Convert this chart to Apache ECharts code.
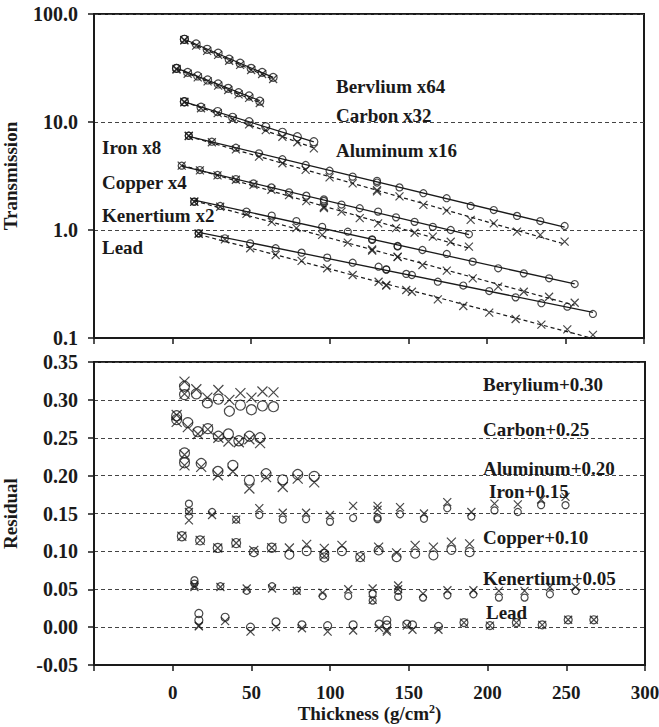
<!DOCTYPE html>
<html>
<head>
<meta charset="utf-8">
<script src="https://cdn.jsdelivr.net/npm/echarts@6/dist/echarts.min.js"></script>
<style>
  html, body { margin: 0; padding: 0; background: #fff; }
  #chart { width: 659px; height: 727px; }
</style>
</head>
<body>
<div id="chart"></div>
<script>
// Transmission (plotted after the scale factor in each label) and residuals
// for seven absorbers; circles and crosses are the two data sets per absorber.

const beThick = [7.5, 7.5, 15, 22, 29, 36, 43, 50, 57, 64];
const beCirc = [58.3, 58.3, 52.8, 47.1, 43.3, 38.1, 35.0, 31.4, 28.8, 25.9];
const beCross = [57.5, 57.0, 51.0, 45.5, 41.8, 36.9, 33.8, 30.3, 27.8, 25.0];
const beResCirc = [0.318, 0.307, 0.308, 0.296, 0.301, 0.285, 0.293, 0.287, 0.292, 0.291];
const beResCross = [0.324, 0.308, 0.314, 0.303, 0.313, 0.300, 0.309, 0.303, 0.311, 0.310];

const cThick = [2.5, 2.5, 9.6, 16, 22.3, 29, 35.4, 42, 48.7, 55.5];
const cCirc = [31.4, 31.4, 28.8, 26.7, 24.5, 22.5, 20.5, 18.7, 17.4, 15.6];
const cCross = [31.0, 30.6, 28.0, 25.9, 23.8, 21.7, 19.8, 18.0, 16.7, 15.0];
const cResCirc = [0.279, 0.274, 0.270, 0.258, 0.262, 0.252, 0.255, 0.246, 0.252, 0.250];
const cResCross = [0.280, 0.271, 0.264, 0.255, 0.261, 0.250, 0.245, 0.244, 0.248, 0.243];

const alThick = [7.5, 7.5, 18.1, 28.7, 38.2, 48.7, 59.3, 69.9, 79.4, 89.9];
const alCirc = [15.4, 15.4, 13.7, 12.5, 11.06, 10.07, 9.04, 8.03, 7.31, 6.57];
const alCross = [15.4, 15.2, 13.4, 12.1, 10.6, 9.5, 8.4, 7.3, 6.5, 5.7];
const alResCirc = [0.230, 0.217, 0.216, 0.2055, 0.2135, 0.194, 0.2025, 0.1945, 0.2015, 0.199];
const alResCross = [0.2275, 0.2135, 0.2115, 0.2005, 0.2055, 0.183, 0.198, 0.185, 0.196, 0.191];

const feThick = [10.3, 10.3, 25, 40.3, 55, 69.9, 84.7, 99.9, 114.6, 130.1, 130.1, 144.4, 159.6, 174.4, 189.7, 204.4, 219.2, 234, 249.5];
const feCirc = [7.46, 7.46, 6.57, 5.78, 5.13, 4.52, 4.0, 3.54, 3.12, 2.85, 2.75, 2.48, 2.19, 1.97, 1.67, 1.53, 1.35, 1.21, 1.09];
const feCross = [7.46, 7.40, 6.50, 5.57, 4.78, 4.15, 3.60, 3.07, 2.70, 2.34, 2.28, 2.05, 1.71, 1.51, 1.24, 1.15, 0.965, 0.90, 0.78];
const feResCirc = [0.163, 0.153, 0.152, 0.142, 0.148, 0.142, 0.1425, 0.139, 0.144, 0.1445, 0.1425, 0.149, 0.143, 0.157, 0.146, 0.154, 0.152, 0.161, 0.161];
const feResCross = [0.152, 0.141, 0.148, 0.142, 0.157, 0.151, 0.151, 0.148, 0.160, 0.160, 0.155, 0.1585, 0.150, 0.165, 0.152, 0.163, 0.162, 0.1685, 0.172];

const cuThick = [5.8, 17.4, 28.6, 40.3, 51.5, 62.9, 74.1, 85.1, 96.3, 96.3, 107.5, 119.1, 130.8, 142.2, 154, 165.6, 177, 188.6];
const cuCirc = [3.94, 3.59, 3.23, 2.96, 2.70, 2.48, 2.23, 2.08, 1.92, 1.86, 1.72, 1.59, 1.48, 1.31, 1.19, 1.07, 1.00, 0.912];
const cuCross = [3.94, 3.57, 3.20, 2.92, 2.62, 2.36, 2.10, 1.85, 1.64, 1.60, 1.48, 1.29, 1.15, 1.04, 0.944, 0.867, 0.779, 0.701];
const cuResCirc = [0.120, 0.1145, 0.1045, 0.111, 0.099, 0.1048, 0.0956, 0.1004, 0.097, 0.092, 0.1004, 0.0925, 0.1013, 0.0925, 0.097, 0.0947, 0.102, 0.099];
const cuResCross = [0.120, 0.1145, 0.1045, 0.111, 0.1013, 0.1048, 0.1044, 0.1092, 0.104, 0.094, 0.108, 0.0925, 0.1057, 0.098, 0.108, 0.1057, 0.1123, 0.110];

const keThick = [13.8, 13.8, 30.3, 47, 63.1, 78.8, 95.2, 111.5, 127, 127, 143.2, 143.2, 159, 174.5, 191, 207.2, 223.5, 239.6, 255.9];
const keCirc = [1.83, 1.83, 1.67, 1.48, 1.36, 1.21, 1.07, 0.964, 0.82, 0.81, 0.711, 0.705, 0.653, 0.60, 0.509, 0.442, 0.397, 0.357, 0.316];
const keCross = [1.83, 1.83, 1.64, 1.41, 1.19, 1.04, 0.90, 0.764, 0.66, 0.645, 0.566, 0.56, 0.474, 0.42, 0.357, 0.299, 0.268, 0.241, 0.212];
const keResCirc = [0.062, 0.0575, 0.054, 0.048, 0.054, 0.048, 0.041, 0.041, 0.044, 0.035, 0.048, 0.040, 0.039, 0.042, 0.0434, 0.039, 0.039, 0.0434, 0.0478];
const keResCross = [0.055, 0.053, 0.053, 0.051, 0.051, 0.048, 0.0456, 0.050, 0.051, 0.036, 0.055, 0.050, 0.0443, 0.0487, 0.0487, 0.0478, 0.0478, 0.053, 0.053];

const pbThick = [16.6, 16.6, 33.3, 49.4, 65.6, 82.1, 98.4, 114.6, 131.1, 136, 136, 148.7, 152.3, 168.8, 185, 201.5, 218.3, 234.7, 251.2, 267.5];
const pbCirc = [0.931, 0.931, 0.838, 0.753, 0.678, 0.617, 0.555, 0.498, 0.457, 0.432, 0.43, 0.392, 0.383, 0.332, 0.306, 0.272, 0.238, 0.210, 0.195, 0.167];
const pbCross = [0.931, 0.92, 0.82, 0.678, 0.587, 0.517, 0.442, 0.383, 0.332, 0.31, 0.305, 0.278, 0.268, 0.228, 0.198, 0.172, 0.150, 0.133, 0.12, 0.107];
const pbResCirc = [0.018, 0.009, 0.013, 0.0, 0.007, 0.003, 0.002, 0.003, 0.004, 0.009, 0.003, 0.004, 0.003, 0.001, 0.006, 0.002, 0.006, 0.003, 0.0097, 0.0097];
const pbResCross = [0.002, 0.001, 0.008, -0.006, 0.0, -0.0015, -0.006, -0.0045, -0.001, -0.006, -0.004, 0.002, -0.0035, -0.0035, 0.006, 0.002, 0.006, 0.003, 0.0097, 0.0097];

const transLabels = ['Bervlium x64', 'Carbon x32', 'Aluminum x16', 'Iron x8', 'Copper x4', 'Kenertium x2', 'Lead'];
const residLabels = ['Berylium+0.30', 'Carbon+0.25', 'Aluminum+0.20', 'Iron+0.15', 'Copper+0.10', 'Kenertium+0.05', 'Lead'];

const absorbers = [
  { thick: beThick, circ: beCirc, cross: beCross, resCirc: beResCirc, resCross: beResCross },
  { thick: cThick, circ: cCirc, cross: cCross, resCirc: cResCirc, resCross: cResCross },
  { thick: alThick, circ: alCirc, cross: alCross, resCirc: alResCirc, resCross: alResCross },
  { thick: feThick, circ: feCirc, cross: feCross, resCirc: feResCirc, resCross: feResCross },
  { thick: cuThick, circ: cuCirc, cross: cuCross, resCirc: cuResCirc, resCross: cuResCross },
  { thick: keThick, circ: keCirc, cross: keCross, resCirc: keResCirc, resCross: keResCross },
  { thick: pbThick, circ: pbCirc, cross: pbCross, resCirc: pbResCirc, resCross: pbResCross }
];

// marker sizes per absorber in the residual panel
const residCircleSize = [10, 10, 10, 7, 9, 7, 8];
const residCrossSize = [10, 10, 10, 8, 9, 8, 8];

const INK = '#1a1a1a';
const FONT = '"Liberation Serif", "Times New Roman", serif';
const CROSS = 'path://M0,0L10,10M10,0L0,10';

const zip = (xs, ys) => xs.map((x, i) => [x, ys[i]]);

// exponential (straight in log space) least-squares fit, drawn over the data range
function expFit(xs, ys) {
  const n = xs.length;
  let sx = 0, sy = 0, sxx = 0, sxy = 0;
  for (let i = 0; i < n; i++) {
    const ly = Math.log10(ys[i]);
    sx += xs[i]; sy += ly; sxx += xs[i] * xs[i]; sxy += xs[i] * ly;
  }
  const b = (n * sxy - sx * sy) / (n * sxx - sx * sx);
  const a = (sy - b * sx) / n;
  const x0 = Math.min(...xs), x1 = Math.max(...xs);
  return [[x0, Math.pow(10, a + b * x0)], [x1, Math.pow(10, a + b * x1)]];
}

const hollow = { color: 'rgba(255,255,255,0)', borderColor: INK, borderWidth: 1.2 };

const series = [];
absorbers.forEach((m, i) => {
  series.push({
    type: 'line', xAxisIndex: 0, yAxisIndex: 0, data: expFit(m.thick, m.circ),
    symbol: 'none', lineStyle: { color: INK, width: 1.3 }, z: 2, silent: true
  });
  series.push({
    type: 'line', xAxisIndex: 0, yAxisIndex: 0, data: expFit(m.thick, m.cross),
    symbol: 'none', lineStyle: { color: INK, width: 1.2, type: [4, 3] }, z: 2, silent: true
  });
  series.push({
    type: 'scatter', xAxisIndex: 0, yAxisIndex: 0, data: zip(m.thick, m.circ),
    symbol: 'circle', symbolSize: i < 3 ? 8 : 7, itemStyle: hollow, z: 3
  });
  series.push({
    type: 'scatter', xAxisIndex: 0, yAxisIndex: 0, data: zip(m.thick, m.cross),
    symbol: CROSS, symbolSize: 8, itemStyle: hollow, z: 3
  });
  series.push({
    type: 'scatter', xAxisIndex: 1, yAxisIndex: 1, data: zip(m.thick, m.resCirc),
    symbol: 'circle', symbolSize: residCircleSize[i], itemStyle: hollow, z: 3
  });
  series.push({
    type: 'scatter', xAxisIndex: 1, yAxisIndex: 1, data: zip(m.thick, m.resCross),
    symbol: CROSS, symbolSize: residCrossSize[i], itemStyle: hollow, z: 3
  });
});

const labelStyle = { fontFamily: FONT, fontWeight: 'bold', fontSize: 19, color: INK };
const yTickStyle = { fontFamily: FONT, fontWeight: 'bold', fontSize: 20, color: INK };
const dashed = { show: true, lineStyle: { color: '#444', width: 1, type: [4, 3] } };

const transPos = [[336, 86], [336, 115], [336, 150], [102, 147], [102, 182], [102, 215], [102, 247]];
const residPos = [[483, 384], [483, 429], [483, 468], [489, 491], [483, 537], [483, 578], [486, 612]];
const noteText = (txt, p) => ({
  type: 'text', x: p[0], y: p[1], silent: true,
  style: { text: txt, font: 'bold 19px ' + FONT, fill: INK, verticalAlign: 'middle', align: 'left' }
});

const axisLine = () => ({ show: true, onZero: false, lineStyle: { color: INK, width: 2 } });
const axisTick = () => ({ show: true, length: 6, lineStyle: { color: INK, width: 1.5 } });

const xCommon = () => ({
  type: 'value', min: -50, max: 300, interval: 50,
  axisLine: axisLine(), axisTick: axisTick(), splitLine: { show: false }
});

const gridBox = { show: true, borderColor: INK, borderWidth: 2, containLabel: false, outerBoundsMode: 'none' };

const option = {
  backgroundColor: '#fff',
  animation: false,
  grid: [
    Object.assign({ left: 94, top: 14, width: 550, height: 324 }, gridBox),
    Object.assign({ left: 94, top: 362, width: 551, height: 303 }, gridBox)
  ],
  xAxis: [
    Object.assign(xCommon(), { gridIndex: 0, axisLabel: { show: false } }),
    Object.assign(xCommon(), {
      gridIndex: 1,
      axisLabel: Object.assign({}, labelStyle, { margin: 18, formatter: v => (v < 0 ? '' : String(v)) }),
      name: 'Thickness (g/cm{sup|2})', nameLocation: 'middle', nameGap: 38,
      nameTextStyle: Object.assign({}, labelStyle, {
        rich: { sup: { fontFamily: FONT, fontWeight: 'bold', fontSize: 12, color: INK, verticalAlign: 'top', padding: [0, 0, 8, 0] } }
      })
    })
  ],
  yAxis: [
    {
      gridIndex: 0, type: 'log', logBase: 10, min: 0.1, max: 100,
      axisLine: axisLine(), axisTick: axisTick(),
      axisLabel: Object.assign({}, yTickStyle, { margin: 16, formatter: v => Number(v).toFixed(1) }),
      splitLine: dashed,
      name: 'Transmission', nameLocation: 'middle', nameGap: 74, nameRotate: 90,
      nameTextStyle: labelStyle
    },
    {
      gridIndex: 1, type: 'value', min: -0.05, max: 0.35, interval: 0.05,
      axisLine: axisLine(), axisTick: axisTick(),
      axisLabel: Object.assign({}, yTickStyle, { margin: 16, formatter: v => Number(v).toFixed(2) }),
      splitLine: dashed,
      name: 'Residual', nameLocation: 'middle', nameGap: 74, nameRotate: 90,
      nameTextStyle: labelStyle
    }
  ],
  graphic: transLabels.map((t, i) => noteText(t, transPos[i]))
    .concat(residLabels.map((t, i) => noteText(t, residPos[i]))),
  series: series
};

const chart = echarts.init(document.getElementById('chart'), null, { renderer: 'svg' });
chart.setOption(option);
</script>
</body>
</html>
